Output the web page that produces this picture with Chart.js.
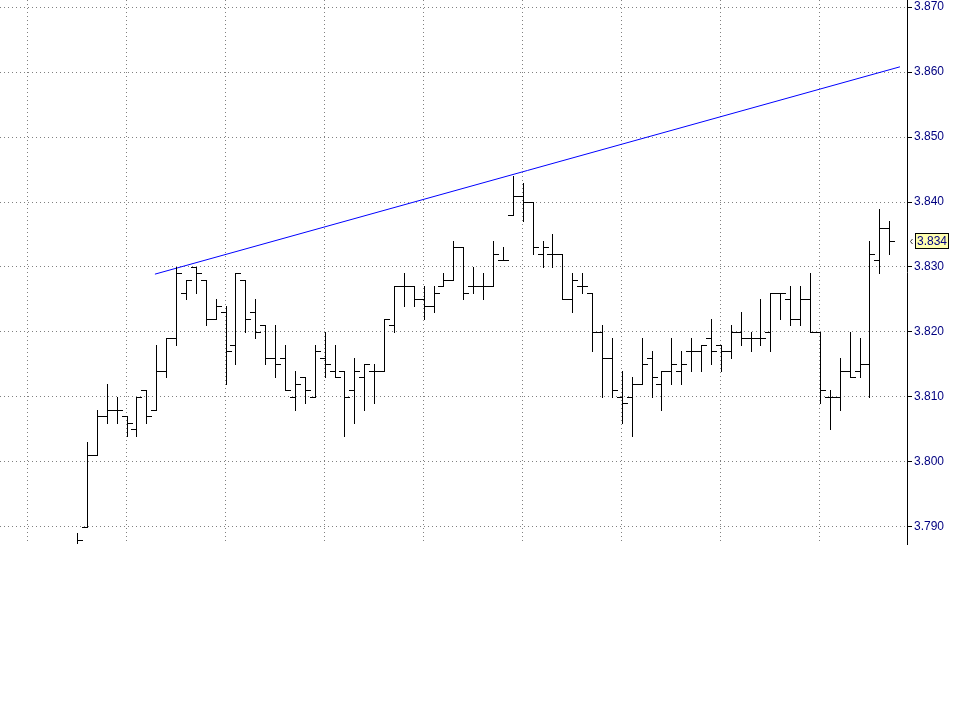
<!DOCTYPE html>
<html>
<head>
<meta charset="utf-8">
<title>OHLC</title>
<script src="https://cdn.jsdelivr.net/npm/chart.js@4.4.1/dist/chart.umd.min.js"></script>
<style>
  html,body{margin:0;padding:0;background:#fff;}
  canvas{display:block;}
</style>
</head>
<body>
<canvas id="chart" width="961" height="720"></canvas>
<script>
// one bar per session, index 0..82
const opens = [
  3.786, 3.790, 3.801, 3.807, 3.808, 3.807, 3.805, 3.811, 3.808, 3.814,
  3.819, 3.826, 3.830, 3.828, 3.822, 3.823, 3.818, 3.828, 3.823, 3.821,
  3.816, 3.816, 3.810, 3.813, 3.810, 3.816, 3.814, 3.814, 3.811, 3.813,
  3.814, 3.814, 3.821, 3.827, 3.827, 3.825, 3.824, 3.827, 3.828, 3.833,
  3.827, 3.827, 3.827, 3.831, 3.838, 3.841, 3.840, 3.832, 3.832, 3.832,
  3.825, 3.827, 3.826, 3.820, 3.816, 3.810, 3.810, 3.812, 3.816, 3.812,
  3.814, 3.814, 3.817, 3.817, 3.819, 3.818, 3.817, 3.820, 3.819, 3.819,
  3.820, 3.826, 3.825, 3.822, 3.825, 3.820, 3.810, 3.810, 3.814, 3.814,
  3.815, 3.831, 3.836
];
const highs = [
  3.789, 3.803, 3.808, 3.812, 3.810, 3.807, 3.810, 3.811, 3.818, 3.819,
  3.830, 3.828, 3.830, 3.828, 3.825, 3.824, 3.829, 3.828, 3.825, 3.821,
  3.821, 3.818, 3.814, 3.813, 3.818, 3.820, 3.818, 3.814, 3.816, 3.815,
  3.815, 3.822, 3.827, 3.829, 3.827, 3.827, 3.827, 3.829, 3.834, 3.833,
  3.830, 3.829, 3.834, 3.833, 3.844, 3.843, 3.840, 3.834, 3.835, 3.832,
  3.829, 3.829, 3.826, 3.821, 3.819, 3.814, 3.813, 3.819, 3.817, 3.814,
  3.819, 3.817, 3.819, 3.818, 3.822, 3.818, 3.821, 3.823, 3.820, 3.825,
  3.826, 3.826, 3.827, 3.827, 3.829, 3.820, 3.811, 3.816, 3.820, 3.819,
  3.834, 3.839, 3.837
];
const lows = [
  3.786, 3.790, 3.801, 3.806, 3.806, 3.804, 3.804, 3.806, 3.808, 3.813,
  3.818, 3.825, 3.826, 3.821, 3.822, 3.812, 3.815, 3.820, 3.819, 3.815,
  3.813, 3.811, 3.808, 3.809, 3.810, 3.813, 3.813, 3.804, 3.806, 3.808,
  3.809, 3.814, 3.820, 3.824, 3.824, 3.822, 3.823, 3.827, 3.828, 3.825,
  3.826, 3.825, 3.827, 3.831, 3.838, 3.837, 3.832, 3.830, 3.830, 3.825,
  3.823, 3.826, 3.817, 3.810, 3.810, 3.806, 3.804, 3.812, 3.810, 3.808,
  3.812, 3.812, 3.814, 3.814, 3.815, 3.814, 3.816, 3.818, 3.817, 3.818,
  3.817, 3.822, 3.821, 3.821, 3.820, 3.809, 3.805, 3.808, 3.813, 3.813,
  3.810, 3.829, 3.832
];
const closes = [
  3.788, 3.801, 3.807, 3.808, 3.808, 3.806, 3.810, 3.807, 3.814, 3.819,
  3.829, 3.828, 3.829, 3.822, 3.824, 3.817, 3.829, 3.822, 3.820, 3.816,
  3.815, 3.811, 3.812, 3.811, 3.817, 3.815, 3.813, 3.810, 3.814, 3.815,
  3.814, 3.822, 3.827, 3.827, 3.825, 3.824, 3.826, 3.828, 3.833, 3.826,
  3.827, 3.827, 3.832, 3.831, 3.841, 3.840, 3.833, 3.833, 3.832, 3.825,
  3.828, 3.827, 3.820, 3.816, 3.811, 3.809, 3.812, 3.815, 3.813, 3.814,
  3.815, 3.815, 3.817, 3.818, 3.817, 3.817, 3.820, 3.819, 3.819, 3.819,
  3.826, 3.826, 3.822, 3.825, 3.820, 3.811, 3.810, 3.814, 3.813, 3.815,
  3.832, 3.836, 3.834
];

const yTicks = [3.790, 3.800, 3.810, 3.820, 3.830, 3.840, 3.850, 3.860, 3.870];
const xGrid = [-5, 5, 15, 25, 35, 45, 55, 65, 75];

// resistance line, in bar index / price
const trendX = [7.87, 83.08];
const trendY = [3.8289, 3.8608];

const FONT = '"Liberation Sans", Arial, sans-serif';

const ohlcPlugin = {
  id: 'ohlc',
  afterDatasetsDraw(chart){
    const {ctx, chartArea: a, scales: {x, y}} = chart;
    ctx.save();
    ctx.beginPath();
    ctx.rect(a.left, a.top, a.right - a.left, a.bottom - a.top);
    ctx.clip();
    ctx.fillStyle = '#000';
    opens.forEach((o, i)=>{
      const px = Math.round(x.getPixelForValue(i));
      const yh = Math.round(y.getPixelForValue(highs[i]));
      const yl = Math.round(y.getPixelForValue(lows[i]));
      const yo = Math.round(y.getPixelForValue(o));
      const yc = Math.round(y.getPixelForValue(closes[i]));
      ctx.fillRect(px, yh, 1, yl - yh + 1);
      ctx.fillRect(px - 5, yo, 5, 1);
      ctx.fillRect(px + 1, yc, 5, 1);
    });
    ctx.restore();
  },
  afterDraw(chart){
    // last price tag on the axis
    const {ctx, scales: {y}} = chart;
    const last = closes[closes.length - 1];
    const yp = Math.round(y.getPixelForValue(last));
    const bx = Math.round(y.left) + 8;
    ctx.save();
    ctx.fillStyle = '#ffffb0';
    ctx.fillRect(bx, yp - 8, 34, 16);
    ctx.strokeStyle = '#000';
    ctx.lineWidth = 1;
    ctx.strokeRect(bx + 0.5, yp - 7.5, 33, 15);
    ctx.fillStyle = '#000080';
    ctx.font = '12px ' + FONT;
    ctx.textBaseline = 'middle';
    ctx.fillText(last.toFixed(3), bx + 2, yp + 1);
    // little arrow
    ctx.strokeStyle = '#333';
    ctx.beginPath();
    ctx.moveTo(bx - 2.5, yp - 2);
    ctx.lineTo(bx - 4.5, yp + 0.5);
    ctx.lineTo(bx - 2.5, yp + 3);
    ctx.stroke();
    ctx.restore();
  }
};

new Chart(document.getElementById('chart'), {
  type: 'line',
  data: {
    datasets: [{
      data: trendX.map((v, i)=> ({x: v, y: trendY[i]})),
      borderColor: '#0000ff',
      borderWidth: 1,
      pointRadius: 0,
      tension: 0,
      fill: false
    }]
  },
  options: {
    responsive: false,
    animation: false,
    devicePixelRatio: 1,
    layout: { padding: { left: 0, right: 0, top: 0, bottom: 176 } },
    plugins: { legend: { display: false }, tooltip: { enabled: false } },
    scales: {
      x: {
        type: 'linear',
        min: -7.77,
        max: 83.79,
        afterBuildTicks: (s)=>{ s.ticks = xGrid.map(v=> ({value: v})); },
        afterFit: (s)=>{ s.height = 0; s.paddingLeft = 0; s.paddingRight = 0; },
        ticks: { display: false },
        grid: { color: '#808080', lineWidth: 1, drawTicks: false },
        border: { display: false, dash: [1, 3] }
      },
      y: {
        type: 'linear',
        position: 'right',
        min: 3.78738,
        max: 3.87108,
        afterBuildTicks: (s)=>{ s.ticks = yTicks.map(v=> ({value: v})); },
        afterFit: (s)=>{ s.width = 54; s.paddingTop = 0; s.paddingBottom = 0; },
        ticks: {
          autoSkip: false,
          padding: 2,
          color: '#000080',
          font: { family: FONT, size: 12 },
          callback: (v)=> Number(v).toFixed(3)
        },
        grid: {
          color: '#808080', lineWidth: 1,
          drawTicks: true, tickLength: 5, tickColor: '#000', tickBorderDash: []
        },
        border: { display: true, color: '#000', width: 1, dash: [1, 3] }
      }
    }
  },
  plugins: [ohlcPlugin]
});
</script>
</body>
</html>
